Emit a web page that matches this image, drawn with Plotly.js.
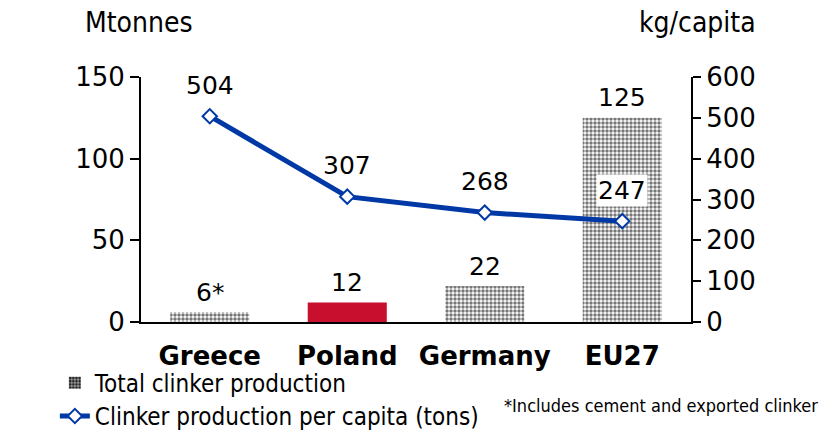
<!DOCTYPE html>
<html>
<head>
<meta charset="utf-8">
<script src="https://cdn.plot.ly/plotly-3.0.1.min.js"></script>
<style>
  body { margin: 0; background: #fff; }
  #chart { width: 819px; height: 432px; }
</style>
</head>
<body>
<div id="chart"></div>
<script>
const countries = ["Greece", "Poland", "Germany", "EU27"]
const clinkerTotal = [6, 12, 22, 125]
const clinkerLabels = ["6*", "12", "22", "125"]
const perCapita = [504, 307, 268, 247]

const mainFont = "DejaVu Sans, Verdana, sans-serif"
const narrowFont = "DejaVu Sans Condensed, DejaVu Sans, sans-serif"
const blue = "#0039a6"

const bars = {
    name: "Total clinker production",
    type: "bar",
    x: countries,
    y: clinkerTotal,
    yaxis: "y",
    marker: {
        color: countries.map(c => c === "Poland" ? "#c8102e" : "#777777"),
        pattern: {
            shape: countries.map(c => c === "Poland" ? "" : "."),
            size: 4,
            solidity: 0.6,
            fgcolor: "#222222",
            bgcolor: "#a4a4a4"
        },
        line: { width: 0 }
    },
    legend: "legend",
    hoverinfo: "skip"
}

const line = {
    name: "Clinker production per capita (tons)",
    type: "scatter",
    mode: "lines+markers",
    x: countries,
    y: perCapita,
    yaxis: "y2",
    line: { color: blue, width: 5 },
    marker: { symbol: "diamond", size: 11, color: "#ffffff", line: { color: blue, width: 2 } },
    legend: "legend2",
    hoverinfo: "skip"
}

const annotations = []
countries.forEach((c, i) => {
    annotations.push({
        x: c, y: clinkerTotal[i], xref: "x", yref: "y",
        text: clinkerLabels[i], showarrow: false, yshift: 20, yanchor: "middle",
        font: { family: mainFont, size: 25, color: "#000" }
    })
    annotations.push({
        x: c, y: perCapita[i], xref: "x", yref: "y2",
        text: String(perCapita[i]), showarrow: false, yshift: 31, yanchor: "middle",
        bgcolor: c === "EU27" ? "#ffffff" : "rgba(0,0,0,0)",
        font: { family: mainFont, size: 25, color: "#000" }
    })
})
annotations.push(
    { text: "Mtonnes", xref: "paper", yref: "paper", x: -0.105, y: 1.224, xanchor: "left", yanchor: "middle",
      showarrow: false, font: { family: narrowFont, size: 28, color: "#000" } },
    { text: "kg/capita", xref: "paper", yref: "paper", x: 1.122, y: 1.224, xanchor: "right", yanchor: "middle",
      showarrow: false, font: { family: narrowFont, size: 28, color: "#000" } },
    { text: "*Includes cement and exported clinker", xref: "paper", yref: "paper", x: 1.234, y: -0.339,
      xanchor: "right", yanchor: "middle", showarrow: false, font: { family: narrowFont, size: 18, color: "#000" } }
)

const layout = {
    width: 819,
    height: 432,
    margin: { l: 141, r: 128, t: 77, b: 110, autoexpand: false },
    paper_bgcolor: "#fff",
    plot_bgcolor: "#fff",
    bargap: 0.425,
    xaxis: {
        showline: true, linecolor: "#000", linewidth: 2,
        ticks: "", showgrid: false, tickangle: 0, automargin: false,
        tickfont: { family: mainFont, size: 26, color: "#000", weight: "bold" },
        ticklabelstandoff: 10
    },
    yaxis: {
        range: [0, 150], tickvals: [0, 50, 100, 150], automargin: false,
        showline: true, linecolor: "#000", linewidth: 2,
        ticks: "outside", ticklen: 9, tickwidth: 2, tickcolor: "#000",
        showgrid: false, zeroline: false,
        tickfont: { family: mainFont, size: 26, color: "#000" }
    },
    yaxis2: {
        overlaying: "y", side: "right", automargin: false,
        range: [0, 600], tickvals: [0, 100, 200, 300, 400, 500, 600],
        showline: true, linecolor: "#000", linewidth: 2,
        ticks: "outside", ticklen: 8, tickwidth: 2, tickcolor: "#000",
        showgrid: false, zeroline: false,
        tickfont: { family: mainFont, size: 26, color: "#000" }
    },
    legend: {
        xref: "container", yref: "container",
        x: 0.067, y: 0.113, xanchor: "left", yanchor: "middle",
        font: { family: narrowFont, size: 24, color: "#000" },
        bgcolor: "rgba(0,0,0,0)"
    },
    legend2: {
        xref: "container", yref: "container",
        x: 0.067, y: 0.036, xanchor: "left", yanchor: "middle",
        font: { family: narrowFont, size: 24, color: "#000" },
        bgcolor: "rgba(0,0,0,0)"
    },
    annotations: annotations,
    showlegend: true
}

Plotly.newPlot("chart", [bars, line], layout, { displayModeBar: false, staticPlot: true })
</script>
</body>
</html>
